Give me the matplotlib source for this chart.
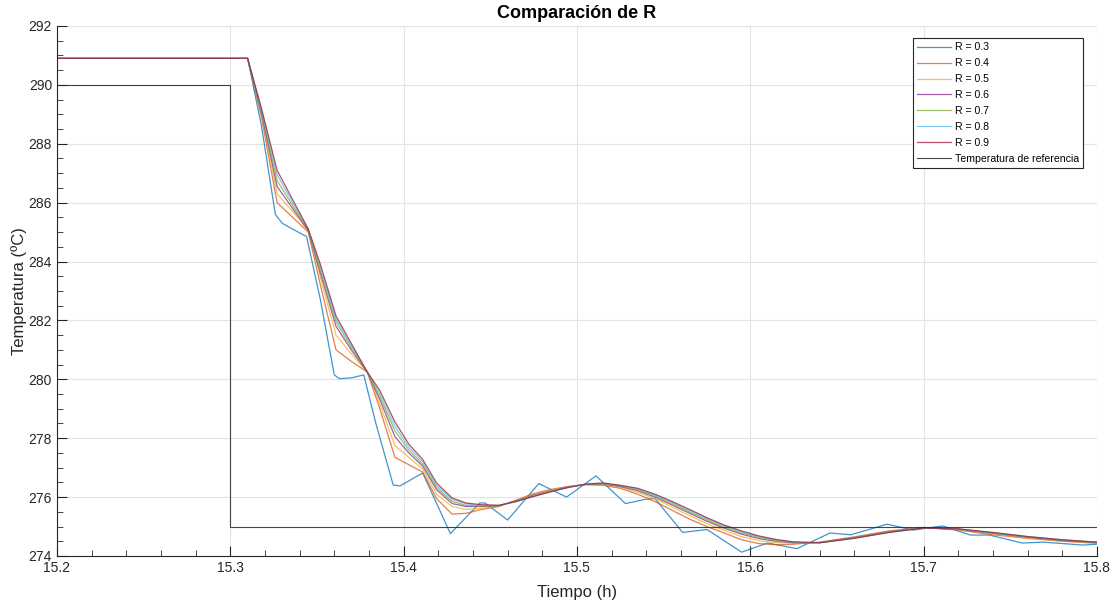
import matplotlib.pyplot as plt
from matplotlib.ticker import MultipleLocator

plt.rcParams['font.family'] = ['Liberation Sans', 'DejaVu Sans']

# Common time grid for R = 0.4 ... 0.9 (hours)
t = [15.2, 15.31, 15.318, 15.327, 15.336, 15.345, 15.352, 15.361, 15.370, 15.379,
     15.386, 15.395, 15.403, 15.411, 15.419, 15.428, 15.436, 15.445, 15.455, 15.465,
     15.475, 15.485, 15.495, 15.505, 15.515, 15.525, 15.535, 15.545, 15.555, 15.565,
     15.575, 15.585, 15.595, 15.605, 15.615, 15.625, 15.64, 15.66, 15.68, 15.70,
     15.72, 15.74, 15.76, 15.78, 15.80]

y_r04 = [290.9, 290.9, 288.9, 286.0, 285.5, 285.0, 283.2, 281.0, 280.6, 280.25,
         279.05, 277.35, 277.1, 276.85, 275.95, 275.42, 275.45, 275.58, 275.68, 275.9,
         276.12, 276.26, 276.36, 276.42, 276.4, 276.3, 276.1, 275.85, 275.55, 275.25,
         275.0, 274.78, 274.55, 274.42, 274.38, 274.4, 274.47, 274.65, 274.85, 274.97,
         274.88, 274.72, 274.6, 274.5, 274.43]
y_r05 = [290.9, 290.9, 289.0, 286.3, 285.7, 285.05, 283.45, 281.5, 280.85, 280.25,
         279.2, 277.75, 277.35, 276.95, 276.1, 275.68, 275.58, 275.62, 275.7, 275.88,
         276.08, 276.23, 276.35, 276.43, 276.43, 276.34, 276.17, 275.94, 275.66, 275.37,
         275.1, 274.87, 274.66, 274.52, 274.45, 274.43, 274.46, 274.63, 274.83, 274.96,
         274.9, 274.75, 274.62, 274.52, 274.45]
y_r06 = [290.9, 290.9, 289.05, 286.55, 285.8, 285.05, 283.6, 281.8, 280.98, 280.25,
         279.35, 278.05, 277.5, 277.05, 276.25, 275.78, 275.68, 275.68, 275.71, 275.87,
         276.06, 276.21, 276.34, 276.43, 276.45, 276.36, 276.22, 276.0, 275.73, 275.45,
         275.18, 274.94, 274.74, 274.59, 274.5, 274.45, 274.45, 274.62, 274.82, 274.96,
         274.91, 274.77, 274.64, 274.53, 274.46]
y_r07 = [290.9, 290.9, 289.1, 286.75, 285.9, 285.08, 283.7, 281.95, 281.06, 280.25,
         279.45, 278.25, 277.6, 277.12, 276.33, 275.85, 275.72, 275.7, 275.71, 275.86,
         276.04, 276.2, 276.33, 276.44, 276.46, 276.38, 276.25, 276.04, 275.78, 275.5,
         275.23, 274.98, 274.78, 274.63, 274.52, 274.46, 274.45, 274.61, 274.81, 274.95,
         274.91, 274.78, 274.65, 274.54, 274.46]
y_r08 = [290.9, 290.9, 289.15, 286.95, 286.0, 285.1, 283.8, 282.05, 281.13, 280.25,
         279.55, 278.4, 277.7, 277.2, 276.4, 275.92, 275.77, 275.72, 275.72, 275.85,
         276.03, 276.19, 276.33, 276.44, 276.47, 276.39, 276.28, 276.07, 275.82, 275.54,
         275.27, 275.02, 274.82, 274.66, 274.54, 274.47, 274.45, 274.6, 274.8, 274.95,
         274.92, 274.79, 274.66, 274.55, 274.47]
y_r09 = [290.9, 290.9, 289.2, 287.1, 286.1, 285.1, 283.9, 282.15, 281.2, 280.25,
         279.65, 278.55, 277.8, 277.28, 276.48, 275.97, 275.8, 275.74, 275.72, 275.85,
         276.02, 276.18, 276.33, 276.44, 276.48, 276.4, 276.3, 276.1, 275.85, 275.58,
         275.3, 275.05, 274.85, 274.68, 274.56, 274.48, 274.45, 274.6, 274.8, 274.95,
         274.92, 274.8, 274.66, 274.55, 274.47]

# R = 0.3 oscillates, so it gets its own time points
t_r03 = [15.2, 15.31, 15.318, 15.326, 15.330, 15.336, 15.344, 15.352, 15.360, 15.363,
         15.370, 15.377, 15.384, 15.394, 15.398, 15.411, 15.427, 15.444, 15.447, 15.460,
         15.478, 15.494, 15.511, 15.528, 15.540, 15.545, 15.561, 15.575, 15.595, 15.610,
         15.627, 15.646, 15.658, 15.679, 15.694, 15.711, 15.727, 15.738, 15.757, 15.769,
         15.792, 15.80]
y_r03 = [290.9, 290.9, 288.6, 285.6, 285.3, 285.1, 284.85, 282.7, 280.15, 280.02,
         280.05, 280.15, 278.5, 276.41, 276.38, 276.82, 274.76, 275.8, 275.8, 275.22,
         276.46, 276.0, 276.72, 275.78, 275.93, 275.95, 274.8, 274.9, 274.13, 274.44,
         274.25, 274.78, 274.72, 275.08, 274.88, 275.02, 274.71, 274.71, 274.44, 274.47,
         274.37, 274.4]

# reference setpoint
t_ref = [15.2, 15.3, 15.3, 15.8]
y_ref = [290, 290, 275, 275]

labels = ['R = 0.3', 'R = 0.4', 'R = 0.5', 'R = 0.6', 'R = 0.7', 'R = 0.8', 'R = 0.9']
colors = ['#0072BD', '#D95319', '#EDB120', '#7E2F8E', '#77AC30', '#4DBEEE', '#A2142F']

fig = plt.figure(figsize=(11.17, 6.04), dpi=100)
ax = fig.add_axes([0.051, 0.0795, 0.931, 0.8775])

series = [(t_r03, y_r03), (t, y_r04), (t, y_r05), (t, y_r06),
          (t, y_r07), (t, y_r08), (t, y_r09)]
for (xs, ys), lab, c in zip(series, labels, colors):
    ax.plot(xs, ys, color=c, linewidth=0.9, alpha=0.75, label=lab,
            solid_joinstyle='round')
ax.plot(t_ref, y_ref, color='#262626', linewidth=0.8, alpha=0.85,
        label='Temperatura de referencia')

ax.set_xlim(15.2, 15.8)
ax.set_ylim(274, 292)
ax.xaxis.set_major_locator(MultipleLocator(0.1))
ax.xaxis.set_minor_locator(MultipleLocator(0.02))
ax.yaxis.set_major_locator(MultipleLocator(2))
ax.yaxis.set_minor_locator(MultipleLocator(0.5))
ax.xaxis.set_major_formatter(plt.FuncFormatter(lambda v, p: f'{v:.1f}'))

ax.tick_params(which='both', direction='in', colors='#262626', labelsize=10)
ax.tick_params(which='major', length=7, width=0.8)
ax.tick_params(which='minor', length=4, width=0.6)
for s in ['top', 'right']:
    ax.spines[s].set_visible(False)
for s in ['left', 'bottom']:
    ax.spines[s].set_color('#262626')
    ax.spines[s].set_linewidth(0.8)

ax.grid(True, which='major', color='#e3e3e3', linewidth=0.8)
ax.set_axisbelow(True)

ax.set_title('Comparación de R', fontsize=13, fontweight='bold', pad=6)
ax.set_xlabel('Tiempo (h)', fontsize=12, color='#262626', labelpad=7)
ax.set_ylabel('Temperatura (ºC)', fontsize=12, color='#262626', labelpad=1)

leg = ax.legend(loc='upper right', bbox_to_anchor=(0.9865, 0.977), fontsize=7.6,
                frameon=True, fancybox=False, framealpha=1, edgecolor='#262626',
                handlelength=3.2, labelspacing=0.56, borderpad=0.4, handletextpad=0.35,
                borderaxespad=0)
leg.get_frame().set_linewidth(0.8)

plt.savefig('out.png', dpi=100)
